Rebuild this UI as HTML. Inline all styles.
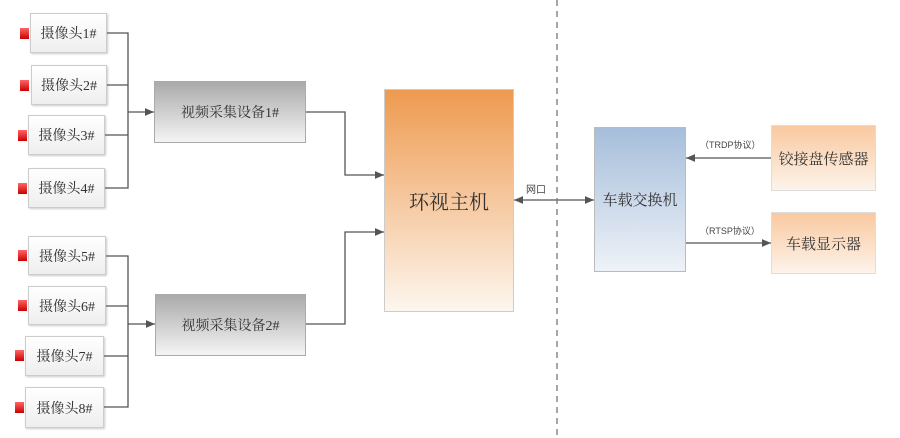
<!DOCTYPE html>
<html><head><meta charset="utf-8"><style>
body{margin:0;width:900px;height:438px;background:#fff;position:relative;overflow:hidden;font-family:"Liberation Serif","Noto Serif CJK SC",serif;color:#333}
.b{position:absolute;box-sizing:border-box;display:flex;align-items:center;justify-content:center}
.cam{border:1px solid #ccc;background:linear-gradient(#fff,#eee);font-size:14px;box-shadow:1px 1px 2px #ccc}
.red{position:absolute;width:9px;height:11px;background:linear-gradient(#f66,#c00)}
.col{border:1px solid #aaa;background:linear-gradient(#aaa,#f4f4f4);font-size:14px}
</style></head><body>
<div class="b cam" style="left:30px;top:13px;width:77px;height:40px">摄像头1#</div>
<div class="b cam" style="left:31px;top:65px;width:76px;height:40px">摄像头2#</div>
<div class="b cam" style="left:28px;top:115px;width:77px;height:40px">摄像头3#</div>
<div class="b cam" style="left:28px;top:168px;width:77px;height:40px">摄像头4#</div>
<div class="b cam" style="left:28px;top:236px;width:78px;height:39px">摄像头5#</div>
<div class="b cam" style="left:28px;top:286px;width:78px;height:39px">摄像头6#</div>
<div class="b cam" style="left:25px;top:336px;width:79px;height:40px">摄像头7#</div>
<div class="b cam" style="left:25px;top:387px;width:79px;height:41px">摄像头8#</div>
<div class="red" style="left:20px;top:28px"></div><div class="red" style="left:20px;top:80px"></div>
<div class="red" style="left:18px;top:130px"></div><div class="red" style="left:18px;top:183px"></div>
<div class="red" style="left:18px;top:250px"></div><div class="red" style="left:18px;top:300px"></div>
<div class="red" style="left:15px;top:350px"></div><div class="red" style="left:15px;top:402px"></div>
<div class="b col" style="left:154px;top:81px;width:152px;height:62px">视频采集设备1#</div>
<div class="b col" style="left:155px;top:294px;width:151px;height:62px">视频采集设备2#</div>
<div class="b" style="left:384px;top:89px;width:130px;height:223px;border:1px solid #ccc;background:linear-gradient(#ee9a50,#fdf6ee);font-size:20px">环视主机</div>
<div class="b" style="left:594px;top:127px;width:92px;height:145px;border:1px solid #bbb;background:linear-gradient(#a6bedb,#eef2f8);font-size:15px">车载交换机</div>
<div class="b" style="left:771px;top:125px;width:105px;height:66px;border:1px solid #ddd;background:linear-gradient(#f9c9a0,#fdf3ea);font-size:15px">铰接盘传感器</div>
<div class="b" style="left:771px;top:212px;width:105px;height:62px;border:1px solid #ddd;background:linear-gradient(#f9c9a0,#fdf3ea);font-size:15px">车载显示器</div>
<svg width="900" height="438" style="position:absolute;left:0;top:0" fill="none" stroke="#555" stroke-width="1.3">
<defs><marker id="a" markerWidth="8" markerHeight="8" refX="7" refY="4" orient="auto-start-reverse"><path d="M0,1L7,4L0,7z" fill="#555" stroke="none"/></marker></defs>
<path d="M107,33H128V188H105M107,85H128M105,135H128"/>
<path d="M128,112H154" marker-end="url(#a)"/>
<path d="M106,256H128V407H104M106,306H128M104,356H128"/>
<path d="M128,324H155" marker-end="url(#a)"/>
<path d="M306,112H345V175H384" marker-end="url(#a)"/>
<path d="M306,324H345V232H384" marker-end="url(#a)"/>
<path d="M514,200H594" marker-start="url(#a)" marker-end="url(#a)"/>
<path d="M557,0V438" stroke-dasharray="6,5" stroke="#777"/>
<path d="M771,158H686" marker-end="url(#a)"/>
<path d="M686,243H771" marker-end="url(#a)"/>
<g stroke="none" fill="#444" font-size="9" font-family="Liberation Sans,Noto Sans CJK SC,sans-serif">
<text x="526" y="193" font-size="10">网口</text>
<text x="700" y="148">（TRDP协议）</text>
<text x="700" y="234">（RTSP协议）</text></g>
</svg>
</body></html>
